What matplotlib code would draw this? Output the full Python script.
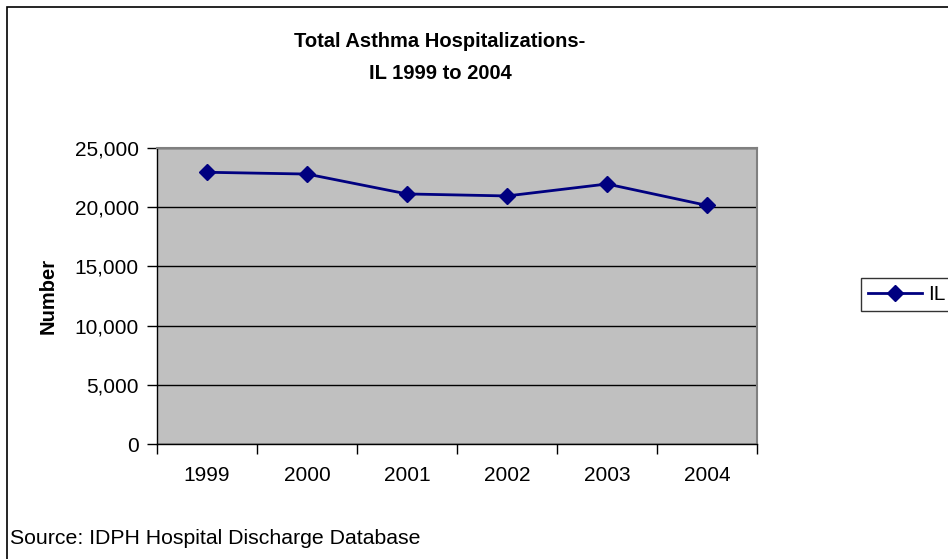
import numpy as np
import matplotlib.pyplot as plt
import matplotlib.patches as mpatches
from matplotlib.ticker import FuncFormatter, FixedLocator

years = ['1999', '2000', '2001', '2002', '2003', '2004']
hosp = [22950, 22800, 21120, 20950, 21960, 20150]

plt.rcParams['font.family'] = ['Liberation Sans', 'DejaVu Sans']

fig = plt.figure(figsize=(9.48, 5.59), dpi=100)
# outer chart frame (right/bottom edges fall outside the image)
fig.patches.append(mpatches.Rectangle((7/948, -0.1), 1.2, 1 - 7/559 + 0.1,
                                      transform=fig.transFigure, fill=False,
                                      edgecolor='black', linewidth=1.2))

ax = fig.add_axes([157/948, 115/559, 600/948, 296/559])
ax.set_facecolor('#c0c0c0')
x = np.arange(len(years))
ax.plot(x, hosp, color='#000080', linewidth=2, marker='D', markersize=8,
        label='IL', zorder=3)

ax.set_xlim(-0.5, len(years) - 0.5)
ax.set_ylim(0, 25000)
ax.set_yticks(np.arange(0, 25001, 5000))
ax.yaxis.set_major_formatter(FuncFormatter(lambda v, p: f'{int(v):,}'))
ax.grid(axis='y', color='black', linewidth=1)
ax.set_axisbelow(True)

ax.set_xticks(x)
ax.set_xticklabels(years)
ax.xaxis.set_minor_locator(FixedLocator(np.arange(-0.5, len(years), 1)))
ax.tick_params(axis='x', which='major', length=0, pad=16, labelsize=15)
ax.tick_params(axis='x', which='minor', length=7, direction='out', width=1)
ax.tick_params(axis='y', length=7, direction='out', width=1, labelsize=15, pad=6)

for s in ['top', 'right']:
    ax.spines[s].set_color('#808080')
    ax.spines[s].set_linewidth(1.5)
for s in ['left', 'bottom']:
    ax.spines[s].set_color('black')
    ax.spines[s].set_linewidth(1)

ax.set_ylabel('Number', fontsize=14.5, fontweight='bold', labelpad=12)

fig.text(440/948, 1 - 57.5/559, 'Total Asthma Hospitalizations-\nIL 1999 to 2004',
         ha='center', va='center', fontsize=14.5, fontweight='bold',
         linespacing=1.85)
fig.text(10/948, 1 - 538/559, 'Source: IDPH Hospital Discharge Database',
         ha='left', va='center', fontsize=15.3)

leg = fig.legend(loc='center left', bbox_to_anchor=(861/948, 1 - 294.5/559),
                 fontsize=15, frameon=True, fancybox=False, handlelength=2.6,
                 handletextpad=0.25, borderpad=0.35, borderaxespad=0)
leg.get_frame().set_edgecolor('black')
leg.get_frame().set_linewidth(1)

fig.savefig('out.png', dpi=100)
